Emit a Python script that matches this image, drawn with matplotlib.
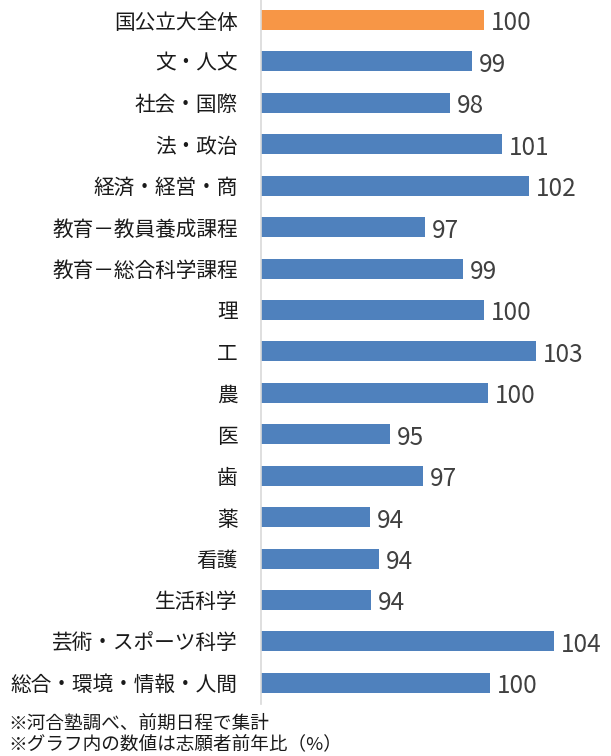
import matplotlib
matplotlib.use("Agg")
import matplotlib.pyplot as plt

plt.rcParams['font.family'] = ['Noto Sans CJK JP', 'DejaVu Sans']

categories = ["国公立大全体", "文・人文", "社会・国際", "法・政治", "経済・経営・商",
              "教育－教員養成課程", "教育－総合科学課程", "理", "工", "農", "医", "歯",
              "薬", "看護", "生活科学", "芸術・スポーツ科学", "総合・環境・情報・人間"]
values = [99.92, 99.27, 98.08, 100.89, 102.35, 96.73, 98.79, 99.92, 102.73,
          100.14, 94.84, 96.62, 93.76, 94.24, 93.81, 103.70, 100.24]
labels = ["100", "99", "98", "101", "102", "97", "99", "100", "103",
          "100", "95", "97", "94", "94", "94", "104", "100"]
colors = ["#F79646"] + ["#4F81BD"] * (len(categories) - 1)
x_min = 87.85

W, H = 611, 756
fig = plt.figure(figsize=(W / 100, H / 100), dpi=100)
left_px, top_px = 260.7, -0.7
width_px, height_px = 335.0, 704.2
ax = fig.add_axes([left_px / W, 1 - (top_px + height_px) / H, width_px / W, height_px / H])

y = list(range(len(categories)))
ax.barh(y, [v - x_min for v in values], left=x_min, height=0.483, color=colors)
for yi, v, lab in zip(y, values, labels):
    ax.annotate(lab, (v, yi), xytext=(5, -2.5), textcoords="offset points",
                ha="left", va="center", fontsize=17.5, color="#404040")

ax.set_xlim(x_min, x_min + width_px / 18.5)
ax.set_ylim(len(categories) - 0.5, -0.5)
ax.set_yticks(y)
ax.set_yticklabels(categories, fontsize=14.9, color="#1a1a1a")
ax.tick_params(axis="y", length=0, pad=16.5)
ax.set_xticks([])
for s in ["top", "right", "bottom"]:
    ax.spines[s].set_visible(False)
ax.spines["left"].set_color("#d9d9d9")
ax.spines["left"].set_linewidth(1.2)

fig.text(8 / W, 1 - 724 / H, "※河合塾調べ、前期日程で集計", fontsize=13.4,
         color="#1a1a1a", ha="left", va="center")
fig.text(8 / W, 1 - 744 / H, "※グラフ内の数値は志願者前年比（%）", fontsize=13.4,
         color="#1a1a1a", ha="left", va="center")

fig.savefig("out.png", dpi=100)
